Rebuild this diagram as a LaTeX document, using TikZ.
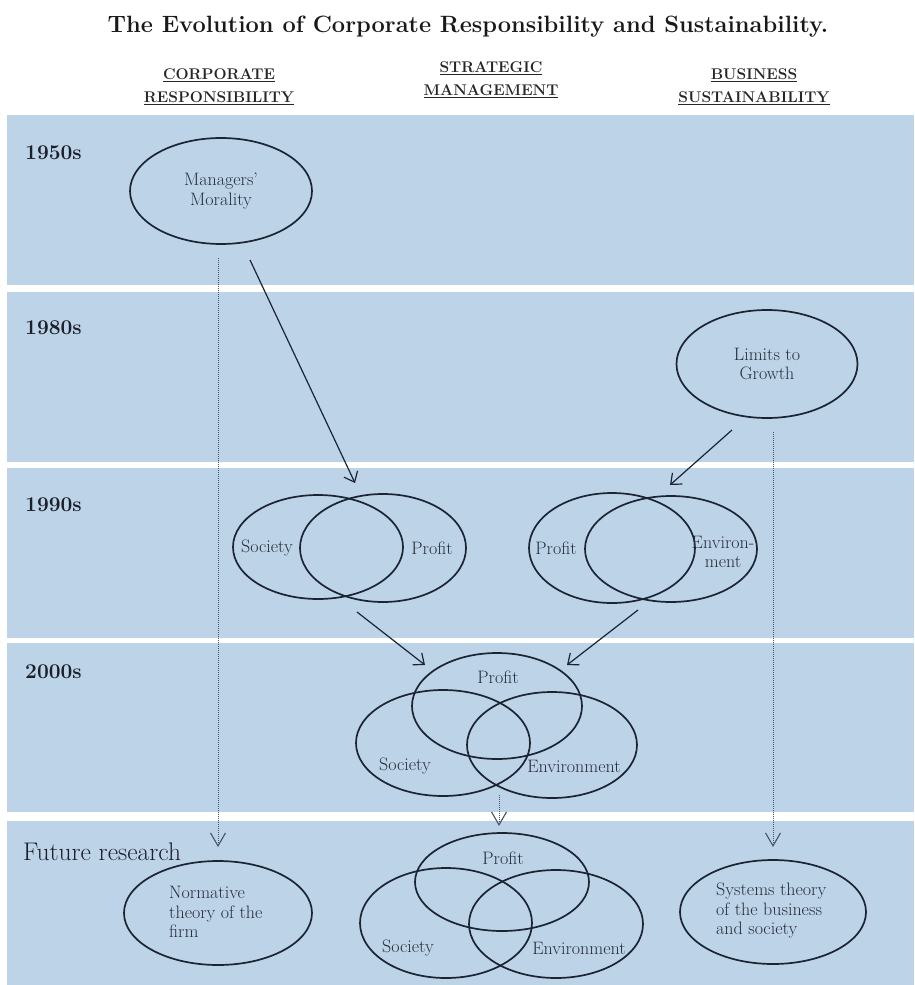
\documentclass[tikz,border=0pt]{standalone}
\usepackage{fontspec}
\usetikzlibrary{shapes.geometric,arrows.meta}
\definecolor{bandc}{RGB}{189,211,231}
\definecolor{ink}{RGB}{27,36,51}
\definecolor{txt}{RGB}{38,46,60}
\definecolor{dotc}{RGB}{70,84,104}
\begin{document}
\begin{tikzpicture}[x=1pt,y=-1pt,
  bandbox/.style={fill=bandc,draw=none},
  ell/.style={ellipse,draw=ink,line width=1.7pt,inner sep=0pt,outer sep=0pt,text=txt,
    font=\fontsize{18}{19.5}\selectfont},
  lbl/.style={text=txt,font=\fontsize{18}{19.5}\selectfont,inner sep=0pt},
  yr/.style={text=txt!70!black,font=\bfseries\fontsize{21}{24}\selectfont,anchor=west,inner sep=0pt},
  hdr/.style={text=black!85,font=\bfseries\fontsize{15.5}{23}\selectfont,align=center,inner sep=0pt},
  arr/.style={draw=ink,line width=1.2pt,-{Straight Barb[length=9pt,width=15pt,line width=1.2pt]}},
  dotarr/.style={draw=dotc,line width=1pt,densely dotted,-{Straight Barb[length=13pt,width=15pt,line width=1.1pt]}}
]
\useasboundingbox (0,0) rectangle (914,985);
\fill[white] (0,0) rectangle (914,985);
% bands
\fill[bandbox] (7,115) rectangle (914,285);
\fill[bandbox] (7,292) rectangle (914,462);
\fill[bandbox] (7,468) rectangle (914,638);
\fill[bandbox] (7,643) rectangle (914,812);
\fill[bandbox] (7,821) rectangle (914,985);

% title and headers
\node[font=\bfseries\fontsize{23.6}{27}\selectfont,text=black!90,inner sep=0pt] (title) at (468,27)
  {The Evolution of Corporate Responsibility and Sustainability.};
\node[hdr] (hcr) at (219,87) {\underline{CORPORATE}\\\underline{RESPONSIBILITY}};
\node[hdr] (hsm) at (491,80) {\underline{STRATEGIC}\\\underline{MANAGEMENT}};
\node[hdr] (hbs) at (754,87) {\underline{BUSINESS}\\\underline{SUSTAINABILITY}};

% year labels
\node[yr] (y50) at (25,153) {1950s};
\node[yr] (y80) at (25,328) {1980s};
\node[yr] (y90) at (25,505) {1990s};
\node[yr] (y00) at (25,672) {2000s};
\node[text=txt!70!black,font=\fontsize{25.5}{28}\selectfont,anchor=west,inner sep=0pt] (yfr) at (23,852) {Future research};

% 1950s
\node[ell,minimum width=182pt,minimum height=106pt,align=center] (mm) at (221,191) {Managers’\\Morality};

% 1980s
\node[ell,minimum width=181pt,minimum height=108pt,align=center] (ltg) at (767,364) {Limits to\\Growth};

% 1990s left venn
\node[ell,minimum width=170pt,minimum height=104pt] (v1a) at (318,547) {};
\node[ell,minimum width=166pt,minimum height=108pt] (v1b) at (383,548) {};
\node[lbl] (v1s) at (267,548) {Society};
\node[lbl] (v1p) at (432,548) {Profit};

% 1990s right venn
\node[ell,minimum width=166pt,minimum height=110pt] (v2a) at (612,548) {};
\node[ell,minimum width=172pt,minimum height=106pt] (v2b) at (671,549) {};
\node[lbl] (v2p) at (556,548) {Profit};
\node[lbl,align=center] (v2e) at (723,552) {Environ-\\ment};

% 2000s venn
\node[ell,minimum width=170pt,minimum height=106pt] (v3p) at (497,706) {};
\node[ell,minimum width=174pt,minimum height=106pt] (v3s) at (443,743) {};
\node[ell,minimum width=170pt,minimum height=106pt] (v3e) at (552,745) {};
\node[lbl] (v3pl) at (498,677) {Profit};
\node[lbl] (v3sl) at (405,766) {Society};
\node[lbl] (v3el) at (574,766) {Environment};

% Future research
\node[ell,minimum width=188pt,minimum height=104pt] (nt) at (218,913) {};
\node[lbl,align=left,anchor=west] (ntt) at (169,912) {Normative\\theory of the\\firm};
\node[ell,minimum width=174pt,minimum height=98pt] (v4p) at (502,882) {};
\node[ell,minimum width=172pt,minimum height=110pt] (v4s) at (446,923) {};
\node[ell,minimum width=174pt,minimum height=108pt] (v4e) at (556,924) {};
\node[lbl] (v4pl) at (503,858) {Profit};
\node[lbl] (v4sl) at (408,948) {Society};
\node[lbl] (v4el) at (579,948) {Environment};
\node[ell,minimum width=186pt,minimum height=104pt] (st) at (773,912) {};
\node[lbl,align=left,anchor=west] (stt) at (716,911) {Systems theory\\of the business\\and society};

% connector end points
\coordinate (mmA) at (250,260);
\coordinate (v1T) at (355,483);
\coordinate (ltgA) at (732,430);
\coordinate (v2T) at (670,485);
\coordinate (v1B) at (357,612);
\coordinate (v3L) at (425,665);
\coordinate (v2B) at (638,610);
\coordinate (v3R) at (567,665);
\coordinate (mmD) at (218,258);
\coordinate (ntT) at (218,847);
\coordinate (ltgD) at (773,432);
\coordinate (stT) at (773,847);
\coordinate (v3D) at (499,795);
\coordinate (v4T) at (499,826);

% connectors
\draw[arr] (mmA) -- (v1T);
\draw[arr] (ltgA) -- (v2T);
\draw[arr] (v1B) -- (v3L);
\draw[arr] (v2B) -- (v3R);
\draw[dotarr] (mmD) -- (ntT);
\draw[dotarr] (ltgD) -- (stT);
\draw[dotarr] (v3D) -- (v4T);
\end{tikzpicture}
\end{document}
